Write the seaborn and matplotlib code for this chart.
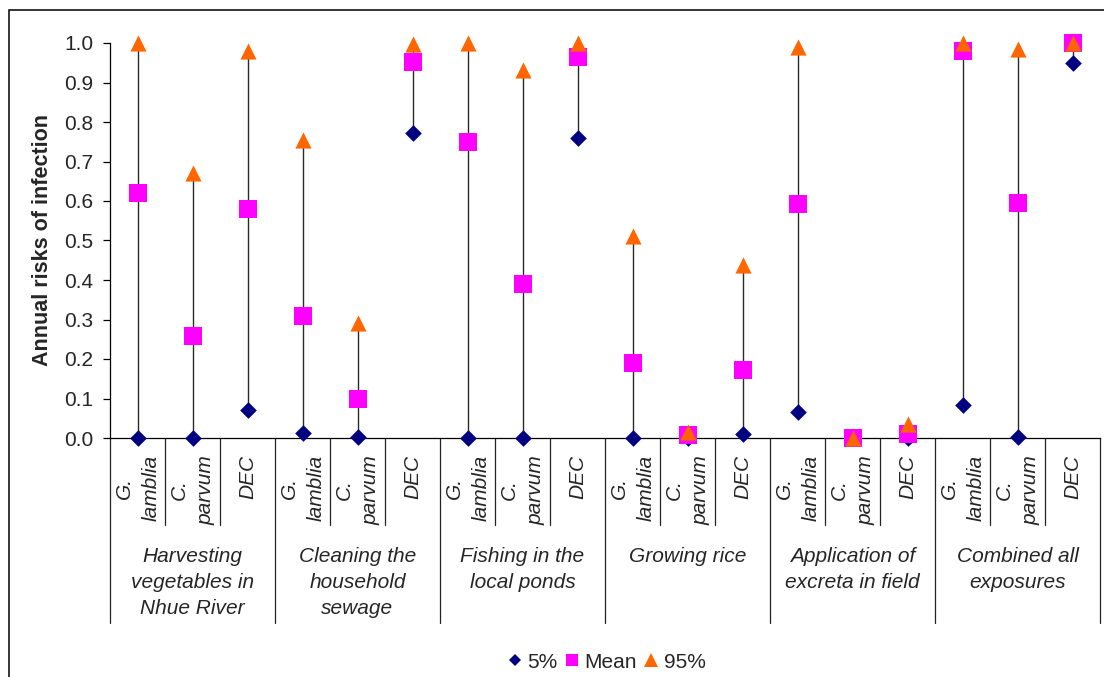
import numpy as np
import pandas as pd
import seaborn as sns
import matplotlib
matplotlib.use("Agg")
import matplotlib.pyplot as plt
from matplotlib.lines import Line2D
from matplotlib.patches import Rectangle
from matplotlib.ticker import MultipleLocator, FormatStrFormatter

# Exposure scenarios (outer axis groups) and pathogens (inner categories)
groups = [
    "Harvesting\nvegetables in\nNhue River",
    "Cleaning the\nhousehold\nsewage",
    "Fishing in the\nlocal ponds",
    "Growing rice",
    "Application of\nexcreta in field",
    "Combined all\nexposures",
]
pathogens = ["G.\nlamblia", "C.\nparvum", "DEC"]

# Annual risk of infection: 5th percentile, mean, 95th percentile
p5 = [0.000, 0.000, 0.070,
      0.012, 0.003, 0.771,
      0.000, 0.000, 0.760,
      0.000, 0.000, 0.009,
      0.067, 0.000, 0.000,
      0.083, 0.003, 0.950]
mean = [0.620, 0.259, 0.581,
        0.309, 0.099, 0.953,
        0.750, 0.390, 0.964,
        0.191, 0.007, 0.172,
        0.593, 0.000, 0.011,
        0.979, 0.596, 1.000]
p95 = [1.000, 0.671, 0.981,
       0.755, 0.291, 0.998,
       1.000, 0.931, 1.000,
       0.511, 0.016, 0.437,
       0.989, 0.001, 0.036,
       1.000, 0.985, 1.000]

series_names = ["5%", "Mean", "95%"]
colors = {"5%": "#000080", "Mean": "#FF00FF", "95%": "#FF6600"}
markers = {"5%": "D", "Mean": "s", "95%": "^"}
sizes = {"5%": 72, "Mean": 165, "95%": 135}

n_sub = len(pathogens)
rows = []
for gi, g in enumerate(groups):
    for si, p in enumerate(pathogens):
        k = gi * n_sub + si
        rows.append({"group": g, "pathogen": p, "pos": k,
                     "5%": p5[k], "Mean": mean[k], "95%": p95[k]})
df = pd.DataFrame(rows)
long = df.melt(id_vars=["group", "pathogen", "pos"], value_vars=series_names,
               var_name="stat", value_name="risk")

sns.set_theme(style="white")
plt.rcParams["font.family"] = ["Liberation Sans", "DejaVu Sans"]
FS = 15

fig = plt.figure(figsize=(11.04, 6.77), dpi=100)
W, H = 1104, 677
ax_left, ax_right, ax_top, ax_bottom = 110, 1100, 43, 438
ax = fig.add_axes([ax_left / W, 1 - ax_bottom / H,
                   (ax_right - ax_left) / W, (ax_bottom - ax_top) / H])

# High-low lines spanning the three statistics
lo = df[series_names].min(axis=1)
hi = df[series_names].max(axis=1)
ax.vlines(df["pos"], lo, hi, color="#2a2a2a", lw=1.0, zorder=1)

for name in series_names:
    sub = long[long["stat"] == name]
    sns.scatterplot(data=sub, x="pos", y="risk", marker=markers[name],
                    color=colors[name], s=sizes[name], linewidth=0,
                    ax=ax, zorder=3, clip_on=False, legend=False)

n = len(df)
ax.set_xlim(-0.5, n - 0.5)
ax.set_ylim(0, 1.0)
ax.yaxis.set_major_locator(MultipleLocator(0.1))
ax.yaxis.set_major_formatter(FormatStrFormatter("%.1f"))
ax.set_xticks([])
ax.set_xlabel("")
ax.set_ylabel("")
ax.tick_params(axis="y", which="major", direction="out", length=5,
               width=0.9, color="black", labelsize=FS, pad=7, left=True)
for s in ["top", "right"]:
    ax.spines[s].set_visible(False)
for s in ["left", "bottom"]:
    ax.spines[s].set_color("black")
    ax.spines[s].set_linewidth(0.9)

# Category axis: separators, pathogen labels and scenario labels
trans = ax.get_xaxis_transform()
span = ax_bottom - ax_top
short_bot = (ax_bottom - 525) / span
long_bot = (ax_bottom - 623) / span
for b in range(n + 1):
    edge = b - 0.5
    yb = long_bot if b % n_sub == 0 else short_bot
    ax.plot([edge, edge], [0, yb], transform=trans, color="#222222",
            lw=0.9, clip_on=False)

sub_top = (ax_bottom - 455) / span
for _, r in df.iterrows():
    ax.text(r["pos"], sub_top, r["pathogen"], transform=trans, rotation=90,
            ha="center", va="top", multialignment="center",
            fontsize=FS, style="italic", linespacing=1.5)

grp_top = (ax_bottom - 547) / span
for gi, g in enumerate(groups):
    centre = gi * n_sub + (n_sub - 1) / 2
    ax.text(centre, grp_top, g, transform=trans, ha="center", va="top",
            multialignment="center", fontsize=FS, style="italic",
            linespacing=1.45)

fig.text(43 / W, 1 - 240.5 / H, "Annual risks of infection", rotation=90,
         ha="center", va="center", fontsize=15.5, fontweight="bold")

handles = [
    Line2D([], [], ls="none", marker="D", ms=6.5, color=colors["5%"], mew=0),
    Line2D([], [], ls="none", marker="s", ms=8.6, color=colors["Mean"], mew=0),
    Line2D([], [], ls="none", marker="^", ms=10.3, color=colors["95%"], mew=0),
]
fig.legend(handles, series_names, loc="center", ncol=3, frameon=False,
           bbox_to_anchor=(606 / W, 1 - 662 / H), fontsize=FS,
           handlelength=0.8, handletextpad=0.2, columnspacing=0.3,
           borderpad=0, borderaxespad=0)

# Chart-area border (open to the right and bottom)
fig.patches.append(Rectangle((9 / W, -0.2), 1.2, 1.2 - 10 / H,
                             transform=fig.transFigure, fill=False,
                             edgecolor="black", lw=1.1))

fig.savefig("out.png", dpi=100)
